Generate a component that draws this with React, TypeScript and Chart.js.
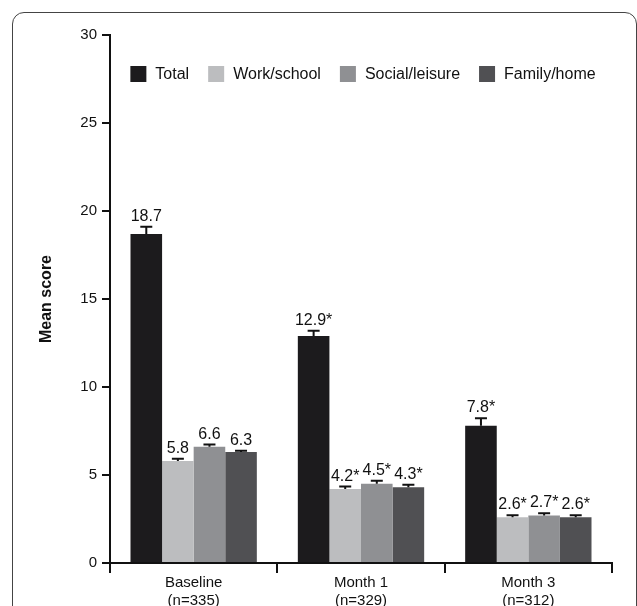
import React, { useEffect, useRef } from "react";
import { Chart, registerables } from "chart.js";

Chart.register(...registerables);

const FONT = "'Liberation Sans', Arial, sans-serif";

const categories = [
  ["Baseline", "(n=335)"],
  ["Month 1", "(n=329)"],
  ["Month 3", "(n=312)"],
];
const seriesNames = ["Total", "Work/school", "Social/leisure", "Family/home"];
const seriesColors = ["#1c1b1d", "#bcbdbf", "#8f9093", "#505053"];

const totalValues = [18.7, 12.9, 7.8];
const workValues = [5.8, 4.2, 2.6];
const socialValues = [6.6, 4.5, 2.7];
const familyValues = [6.3, 4.3, 2.6];

const totalErrors = [0.4, 0.3, 0.43];
const workErrors = [0.13, 0.14, 0.12];
const socialErrors = [0.13, 0.17, 0.12];
const familyErrors = [0.08, 0.14, 0.12];

const totalLabels = ["18.7", "12.9*", "7.8*"];
const workLabels = ["5.8", "4.2*", "2.6*"];
const socialLabels = ["6.6", "4.5*", "2.7*"];
const familyLabels = ["6.3", "4.3*", "2.6*"];

const yTicks = [0, 5, 10, 15, 20, 25, 30];
const yTitle = "Mean score";

const errorBarPlugin = {
  id: "errorBars",
  afterDatasetsDraw(chart: any) {
    const ctx = chart.ctx;
    const y = chart.scales.y;
    chart.data.datasets.forEach((ds: any, i: number) => {
      const meta = chart.getDatasetMeta(i);
      meta.data.forEach((bar: any, j: number) => {
        const v = ds.data[j];
        const e = ds.errors[j];
        const top = y.getPixelForValue(v + e);
        ctx.save();
        ctx.strokeStyle = "#111";
        ctx.lineWidth = 2;
        ctx.beginPath();
        ctx.moveTo(bar.x, bar.y);
        ctx.lineTo(bar.x, top);
        ctx.moveTo(bar.x - 6, top);
        ctx.lineTo(bar.x + 6, top);
        ctx.stroke();
        ctx.fillStyle = "#111";
        ctx.font = `16px ${FONT}`;
        ctx.textAlign = "center";
        ctx.textBaseline = "alphabetic";
        ctx.fillText(ds.valueLabels[j], bar.x, top - 6);
        ctx.restore();
      });
    });
  },
};

const insideLegendPlugin = {
  id: "insideLegend",
  afterDraw(chart: any) {
    const { ctx, chartArea } = chart;
    ctx.save();
    ctx.font = `16px ${FONT}`;
    const box = 16;
    const gapText = 9;
    const gapItem = 19;
    const items = chart.data.datasets.map((ds: any) => ({
      label: ds.label,
      color: ds.backgroundColor,
      w: ctx.measureText(ds.label).width,
    }));
    const total =
      items.reduce((s: number, it: any) => s + box + gapText + it.w, 0) +
      gapItem * (items.length - 1);
    let x = (chartArea.left + chartArea.right) / 2 + 2 - total / 2;
    const cy = chartArea.top + 39;
    items.forEach((it: any) => {
      ctx.fillStyle = it.color;
      ctx.fillRect(x, cy - box / 2, box, box);
      x += box + gapText;
      ctx.fillStyle = "#111";
      ctx.textAlign = "left";
      ctx.textBaseline = "middle";
      ctx.fillText(it.label, x, cy + 1);
      x += it.w + gapItem;
    });
    ctx.restore();
  },
};

export default function App() {
  const canvasRef = useRef<HTMLCanvasElement | null>(null);

  useEffect(() => {
    const canvas = canvasRef.current;
    if (!canvas) return;
    const valueSets = [totalValues, workValues, socialValues, familyValues];
    const errorSets = [totalErrors, workErrors, socialErrors, familyErrors];
    const labelSets = [totalLabels, workLabels, socialLabels, familyLabels];
    const chart = new Chart(canvas, {
      type: "bar",
      data: {
        labels: categories as any,
        datasets: seriesNames.map((name, i) => ({
          label: name,
          data: valueSets[i],
          errors: errorSets[i],
          valueLabels: labelSets[i],
          backgroundColor: seriesColors[i],
          borderWidth: 0,
          categoryPercentage: 0.755,
          barPercentage: 1.0,
        })) as any,
      },
      options: {
        responsive: false,
        animation: false,
        devicePixelRatio: 1,
        layout: { padding: { left: 0, top: 35, right: 25, bottom: 0 } },
        plugins: {
          legend: { display: false },
          tooltip: { enabled: false },
        },
        scales: {
          x: {
            ticks: {
              color: "#111",
              font: { size: 15, family: FONT, lineHeight: 1.2 },
              padding: 1,
              maxRotation: 0,
              autoSkip: false,
            },
            grid: {
              offset: true,
              drawOnChartArea: false,
              drawTicks: true,
              tickLength: 10,
              color: "#111",
              lineWidth: 2,
            },
            border: { display: true, color: "#111", width: 2 },
            afterFit: (s: any) => {
              s.height = 67;
            },
          },
          y: {
            min: 0,
            max: 30,
            afterBuildTicks: (s: any) => {
              s.ticks = yTicks.map((v) => ({ value: v }));
            },
            ticks: {
              color: "#111",
              font: { size: 15, family: FONT },
              padding: 5,
            },
            grid: {
              drawOnChartArea: false,
              drawTicks: true,
              tickLength: 8,
              color: "#111",
              lineWidth: 2,
            },
            border: { display: true, color: "#111", width: 2 },
            title: {
              display: true,
              text: yTitle,
              color: "#111",
              font: { size: 16, weight: "bold", family: FONT },
              padding: { top: 37, bottom: 0 },
            },
            afterFit: (s: any) => {
              s.width = 110;
            },
          },
        },
      },
      plugins: [errorBarPlugin, insideLegendPlugin],
    });
    return () => chart.destroy();
  }, []);

  return (
    <div
      style={{
        position: "absolute",
        left: 0,
        top: 0,
        width: 637,
        height: 606,
        overflow: "hidden",
        background: "#fff",
      }}
    >
      <div
        style={{
          position: "absolute",
          left: 12,
          top: 12,
          width: 625,
          height: 700,
          border: "1px solid #444",
          borderRadius: 12,
          boxSizing: "border-box",
        }}
      />
      <canvas
        ref={canvasRef}
        width={637}
        height={630}
        style={{ position: "absolute", left: 0, top: 0, width: 637, height: 630 }}
      />
    </div>
  );
}
